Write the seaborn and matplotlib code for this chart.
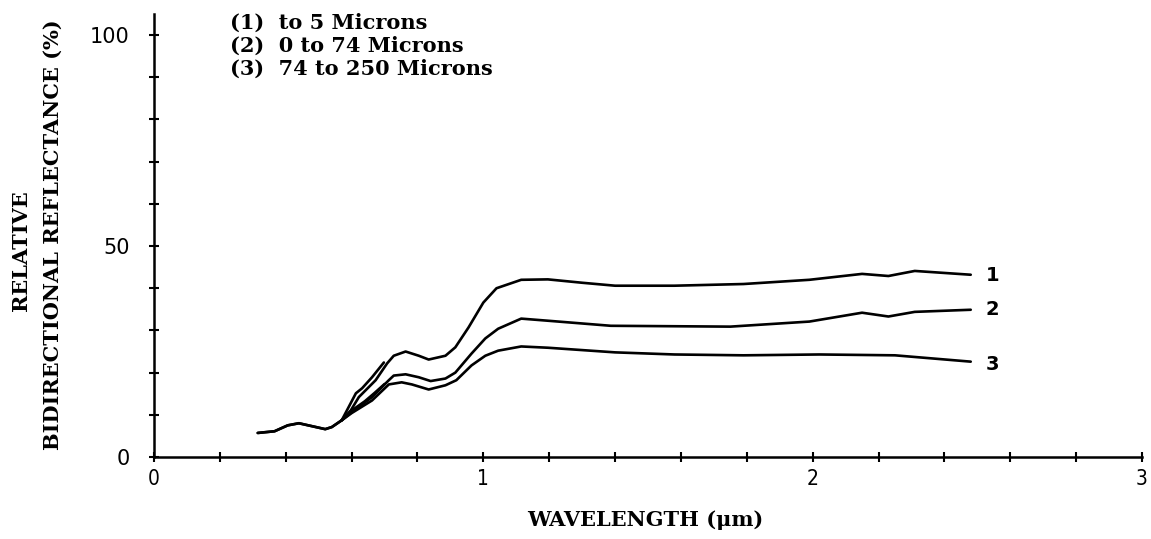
import matplotlib
matplotlib.use("Agg")
import matplotlib.pyplot as plt
import seaborn as sns
import pandas as pd
from matplotlib.ticker import MultipleLocator

# ---- data ----
common_x = [0.315, 0.366, 0.406, 0.44, 0.48, 0.52, 0.54, 0.57]
common_y = [5.7, 6.1, 7.5, 8.0, 7.3, 6.6, 7.1, 8.7]

vis1_x = common_x + [0.613, 0.632, 0.662, 0.698]
vis1_y = common_y + [15.1, 16.3, 18.9, 22.4]

vis2_x = common_x + [0.60, 0.64, 0.67, 0.70]
vis2_y = common_y + [11.0, 13.2, 15.2, 17.3]

c1_x = [0.57, 0.598, 0.622, 0.673, 0.708, 0.728, 0.764, 0.804, 0.834, 0.885, 0.915,
        0.955, 1.0, 1.04, 1.115, 1.196, 1.30, 1.40, 1.58, 1.79, 1.99, 2.15, 2.23,
        2.31, 2.48]
c1_y = [8.7, 11.1, 14.2, 18.2, 22.2, 24.0, 25.0, 24.0, 23.1, 24.0, 26.0,
        30.7, 36.6, 40.0, 42.0, 42.1, 41.3, 40.6, 40.6, 41.0, 42.0, 43.4, 42.9,
        44.1, 43.2]

c2_x = [0.57, 0.60, 0.662, 0.713, 0.728, 0.764, 0.804, 0.84, 0.885, 0.915, 0.964,
        1.006, 1.045, 1.115, 1.196, 1.387, 1.75, 1.99, 2.15, 2.23, 2.31, 2.48]
c2_y = [8.7, 10.6, 14.2, 18.2, 19.3, 19.6, 18.9, 18.0, 18.6, 20.0, 24.5,
        28.1, 30.4, 32.8, 32.3, 31.1, 30.9, 32.1, 34.2, 33.3, 34.4, 34.9]

c3_x = [0.57, 0.60, 0.662, 0.713, 0.752, 0.783, 0.834, 0.885, 0.918, 0.964,
        1.006, 1.045, 1.115, 1.196, 1.40, 1.58, 1.79, 2.02, 2.25, 2.48]
c3_y = [8.7, 10.4, 13.4, 17.2, 17.7, 17.2, 16.0, 17.0, 18.2, 21.7,
        24.0, 25.2, 26.2, 25.9, 24.8, 24.3, 24.1, 24.3, 24.1, 22.6]

curve_labels = ["1", "2", "3"]
curve_label_y = [43.0, 35.0, 22.0]
legend_lines = ["(1)  to 5 Microns", "(2)  0 to 74 Microns", "(3)  74 to 250 Microns"]
x_ticks = [0, 1, 2, 3]
y_ticks = [0, 50, 100]

segments = {"vis1": (vis1_x, vis1_y), "vis2": (vis2_x, vis2_y),
            "c1": (c1_x, c1_y), "c2": (c2_x, c2_y), "c3": (c3_x, c3_y)}
rows = []
for name, (xs, ys) in segments.items():
    for i, (xv, yv) in enumerate(zip(xs, ys)):
        rows.append({"seg": name, "order": i, "wl": xv, "refl": yv})
df = pd.DataFrame(rows)

# ---- figure ----
sns.set_style("white")
plt.rcParams["font.family"] = ["DejaVu Serif"]
plt.rcParams["text.color"] = "black"
plt.rcParams["axes.labelcolor"] = "black"
plt.rcParams["xtick.color"] = "black"
plt.rcParams["ytick.color"] = "black"

fig = plt.figure(figsize=(11.51, 5.39), dpi=100)
# axes: x=0 at px 154, x=3 at px 1142; y=0 at px 457, y=105 at px 14
ax = fig.add_axes([154 / 1151, (539 - 457) / 539, 988 / 1151, 443 / 539])

sns.lineplot(data=df, x="wl", y="refl", units="seg", estimator=None, sort=False,
             color="black", linewidth=1.9, ax=ax, legend=False)

ax.set_xlim(0, 3)
ax.set_ylim(0, 105)
for s in ["top", "right"]:
    ax.spines[s].set_visible(False)
for s in ["left", "bottom"]:
    ax.spines[s].set_linewidth(1.8)
    ax.spines[s].set_color("black")

ax.xaxis.set_minor_locator(MultipleLocator(0.2))
ax.yaxis.set_minor_locator(MultipleLocator(10))
ax.set_xticks(x_ticks)
ax.set_xticklabels([str(v) for v in x_ticks], family="DejaVu Sans", fontsize=15,
                   fontstretch="condensed")
ax.set_yticks(y_ticks)
ax.set_yticklabels([str(v) for v in y_ticks], family="DejaVu Sans", fontsize=15)
ax.tick_params(which="both", bottom=True, left=True, direction="inout",
               length=7, width=1.5, color="black")
ax.tick_params(axis="y", which="major", pad=14)
ax.tick_params(axis="x", which="major", pad=5)

ax.set_xlabel("WAVELENGTH (\u03bcm)", fontsize=15, fontweight="bold")
ax.xaxis.set_label_coords(0.497, (457 - 510) / 443)
ax.set_ylabel("BIDIRECTIONAL REFLECTANCE (%)", fontsize=15, fontweight="bold")
ax.yaxis.set_label_coords((63 - 154) / 988, (457 - 235) / 443)
fig.text(21 / 1151, (539 - 251) / 539, "RELATIVE", rotation=90, fontsize=15,
         fontweight="bold", ha="center", va="center")

for lab, yv in zip(curve_labels, curve_label_y):
    ax.text(2.525, yv, lab, fontsize=14, family="DejaVu Sans", ha="left", va="center",
            fontweight="bold")

for i, line in enumerate(legend_lines):
    ax.text(0.23, 103 - i * 5.45, line, fontsize=15, fontweight="bold",
            ha="left", va="center")

fig.savefig("out.png", dpi=100, facecolor="white")
